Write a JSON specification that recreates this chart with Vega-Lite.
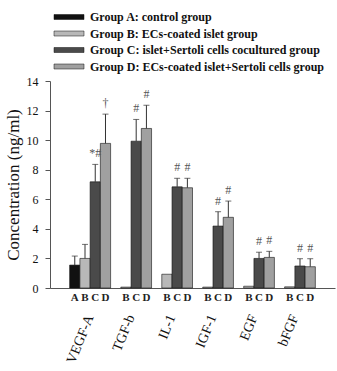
{
  "$schema": "https://vega.github.io/schema/vega-lite/v6.json",
  "width": 285,
  "height": 207,
  "autosize": {"type": "none"},
  "padding": {"left": 50, "top": 81, "right": 2, "bottom": 83},
  "background": "white",
  "config": {
    "view": {"stroke": null},
    "font": "Liberation Serif",
    "axis": {"labelFont": "Liberation Serif", "titleFont": "Liberation Serif", "domainColor": "#555", "tickColor": "#555", "labelColor": "#111", "titleColor": "#111", "grid": false}
  },
  "data": {
    "values": [
      {"factor": "VEGF-A", "group": "A", "name": "Group A: control group", "value": 1.55, "upper": 2.16, "note": ""},
      {"factor": "VEGF-A", "group": "B", "name": "Group B: ECs-coated islet group", "value": 2.0, "upper": 2.95, "note": ""},
      {"factor": "VEGF-A", "group": "C", "name": "Group C: islet+Sertoli cells cocultured  group", "value": 7.18, "upper": 8.36, "note": "*#"},
      {"factor": "VEGF-A", "group": "D", "name": "Group D: ECs-coated islet+Sertoli cells group", "value": 9.78, "upper": 11.76, "note": "†"},
      {"factor": "TGF-b", "group": "B", "name": "Group B: ECs-coated islet group", "value": 0.06, "upper": null, "note": ""},
      {"factor": "TGF-b", "group": "C", "name": "Group C: islet+Sertoli cells cocultured  group", "value": 9.93, "upper": 11.4, "note": "#"},
      {"factor": "TGF-b", "group": "D", "name": "Group D: ECs-coated islet+Sertoli cells group", "value": 10.79, "upper": 12.36, "note": "#"},
      {"factor": "IL-1", "group": "B", "name": "Group B: ECs-coated islet group", "value": 0.93, "upper": null, "note": ""},
      {"factor": "IL-1", "group": "C", "name": "Group C: islet+Sertoli cells cocultured  group", "value": 6.84, "upper": 7.42, "note": "#"},
      {"factor": "IL-1", "group": "D", "name": "Group D: ECs-coated islet+Sertoli cells group", "value": 6.78, "upper": 7.42, "note": "#"},
      {"factor": "IGF-1", "group": "B", "name": "Group B: ECs-coated islet group", "value": 0.06, "upper": null, "note": ""},
      {"factor": "IGF-1", "group": "C", "name": "Group C: islet+Sertoli cells cocultured  group", "value": 4.19, "upper": 5.16, "note": "#"},
      {"factor": "IGF-1", "group": "D", "name": "Group D: ECs-coated islet+Sertoli cells group", "value": 4.78, "upper": 5.88, "note": "#"},
      {"factor": "EGF", "group": "B", "name": "Group B: ECs-coated islet group", "value": 0.12, "upper": null, "note": ""},
      {"factor": "EGF", "group": "C", "name": "Group C: islet+Sertoli cells cocultured  group", "value": 2.0, "upper": 2.42, "note": "#"},
      {"factor": "EGF", "group": "D", "name": "Group D: ECs-coated islet+Sertoli cells group", "value": 2.07, "upper": 2.48, "note": "#"},
      {"factor": "bFGF", "group": "B", "name": "Group B: ECs-coated islet group", "value": 0.08, "upper": null, "note": ""},
      {"factor": "bFGF", "group": "C", "name": "Group C: islet+Sertoli cells cocultured  group", "value": 1.49, "upper": 1.98, "note": "#"},
      {"factor": "bFGF", "group": "D", "name": "Group D: ECs-coated islet+Sertoli cells group", "value": 1.44, "upper": 1.98, "note": "#"}
    ]
  },
  "encoding": {
    "x": {
      "field": "factor", "type": "nominal",
      "sort": ["VEGF-A", "TGF-b", "IL-1", "IGF-1", "EGF", "bFGF"],
      "scale": {"paddingInner": 0, "paddingOuter": 0.48},
      "axis": {"title": null, "labelAngle": -68, "labelAlign": "right", "labelBaseline": "middle", "labelFontSize": 14, "labelPadding": 27, "ticks": false, "domainColor": "#555"}
    },
    "xOffset": {"field": "group", "type": "nominal", "scale": {"domain": ["A", "B", "C", "D"], "paddingInner": 0, "paddingOuter": 0}}
  },
  "layer": [
    {
      "mark": {"type": "bar", "stroke": "#111", "strokeWidth": 0.6},
      "encoding": {
        "y": {"field": "value", "type": "quantitative", "scale": {"domain": [0, 14]},
          "axis": {"title": "Concentration (ng/ml)", "titleFontSize": 17, "titleFontWeight": "normal", "titlePadding": 4, "values": [0, 2, 4, 6, 8, 10, 12, 14], "labelOverlap": false, "labelFontSize": 12, "tickSize": 5, "labelPadding": 7}},
        "fill": {"field": "name", "type": "nominal",
          "scale": {"domain": ["Group A: control group", "Group B: ECs-coated islet group", "Group C: islet+Sertoli cells cocultured  group", "Group D: ECs-coated islet+Sertoli cells group"], "range": ["#111111", "#b8b8b8", "#4a4a4a", "#a0a0a0"]},
          "legend": {"title": null, "orient": "none", "legendX": 3, "legendY": -70, "symbolType": "M-3,-0.5H3V0.5H-3Z", "symbolSize": 100, "symbolOffset": 10, "symbolStrokeColor": "#111", "symbolStrokeWidth": 0.5, "labelFont": "Liberation Serif", "labelFontSize": 12, "labelFontWeight": "bold", "labelColor": "#111", "labelOffset": 15, "rowPadding": 4.5, "labelLimit": 300}}
      }
    },
    {
      "transform": [{"filter": "datum.upper != null"}],
      "mark": {"type": "rule", "color": "#333", "strokeWidth": 1},
      "encoding": {"y": {"field": "value", "type": "quantitative", "scale": {"domain": [0, 14]},
          "axis": {"title": "Concentration (ng/ml)", "titleFontSize": 17, "titleFontWeight": "normal", "titlePadding": 4, "values": [0, 2, 4, 6, 8, 10, 12, 14], "labelOverlap": false, "labelFontSize": 12, "tickSize": 5, "labelPadding": 7}}, "y2": {"field": "upper"}}
    },
    {
      "transform": [{"filter": "datum.upper != null"}],
      "mark": {"type": "tick", "color": "#333", "thickness": 1, "size": 6},
      "encoding": {"y": {"field": "upper", "type": "quantitative", "scale": {"domain": [0, 14]},
          "axis": {"title": "Concentration (ng/ml)", "titleFontSize": 17, "titleFontWeight": "normal", "titlePadding": 4, "values": [0, 2, 4, 6, 8, 10, 12, 14], "labelOverlap": false, "labelFontSize": 12, "tickSize": 5, "labelPadding": 7}}}
    },
    {
      "transform": [{"filter": "datum.upper != null"}],
      "mark": {"type": "text", "baseline": "bottom", "dy": -4, "fontSize": 12, "color": "#555", "font": "Liberation Serif"},
      "encoding": {"y": {"field": "upper", "type": "quantitative", "scale": {"domain": [0, 14]},
          "axis": {"title": "Concentration (ng/ml)", "titleFontSize": 17, "titleFontWeight": "normal", "titlePadding": 4, "values": [0, 2, 4, 6, 8, 10, 12, 14], "labelOverlap": false, "labelFontSize": 12, "tickSize": 5, "labelPadding": 7}}, "text": {"field": "note"}}
    },
    {
      "mark": {"type": "text", "baseline": "top", "dy": 4, "fontSize": 11, "fontWeight": "bold", "color": "#222", "font": "Liberation Serif"},
      "encoding": {"y": {"datum": 0, "type": "quantitative", "scale": {"domain": [0, 14]},
          "axis": {"title": "Concentration (ng/ml)", "titleFontSize": 17, "titleFontWeight": "normal", "titlePadding": 4, "values": [0, 2, 4, 6, 8, 10, 12, 14], "labelOverlap": false, "labelFontSize": 12, "tickSize": 5, "labelPadding": 7}}, "text": {"field": "group"}}
    }
  ]
}
